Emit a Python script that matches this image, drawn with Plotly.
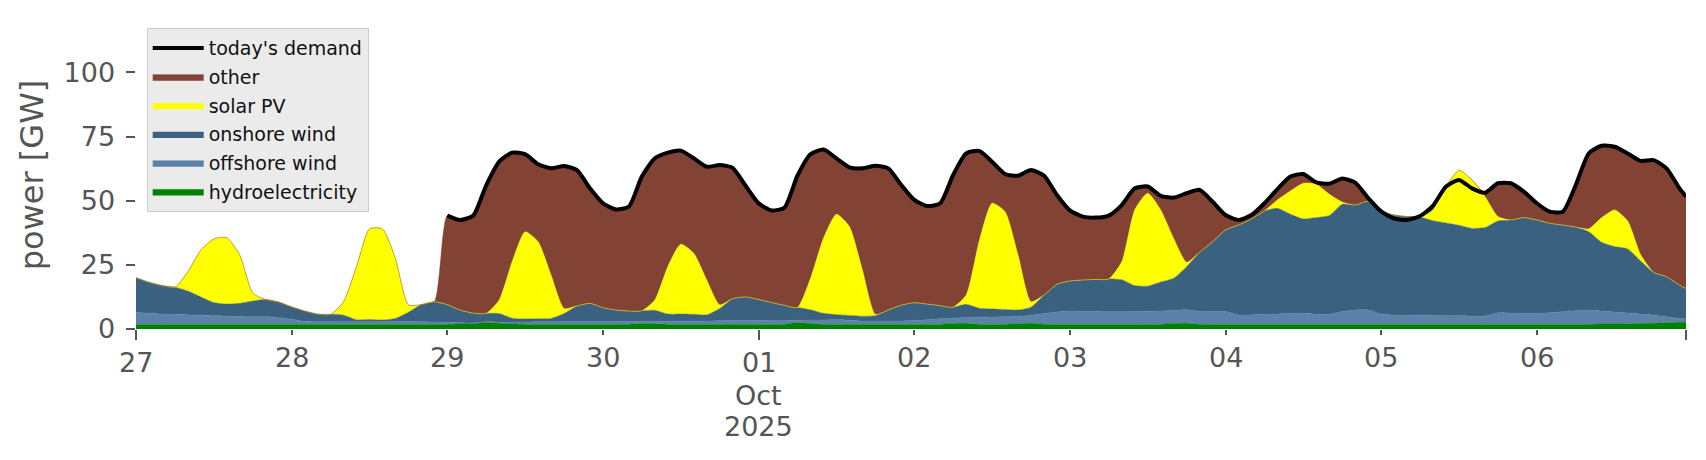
import numpy as np
import pandas as pd
import plotly.graph_objects as go

# ---------------- data (GW), 2-hourly from 2025-09-27 00:00, plus 2025-10-06 23:00 ----------------
hours = list(range(0, 240, 2)) + [239]
times = pd.Timestamp("2025-09-27") + pd.to_timedelta(hours, unit="h")

hydro = [1.8]*25 + [1.9, 2.0, 2.5, 2.2, 1.9] + [1.8]*9 + [2.1, 2.0] + [1.8]*10 + [2.5, 2.1] + [1.8]*10 + \
        [2.1, 2.2, 1.8, 1.8, 1.8, 2.0, 2.2] + [1.8]*10 + [2.1, 2.2] + [1.8]*31 + \
        [1.9, 1.9, 2.0, 2.1, 2.2, 2.4, 2.6, 2.6]

offshore = [4.7, 4.3, 4.0, 3.9, 3.7, 3.6, 3.4, 3.2, 3.1, 3.0,
            3.0, 2.6, 2.0, 1.2, 1.0, 1.0, 1.0, 1.0, 1.0, 1.0,
            1.1, 1.1, 1.0, 0.9, 0.8, 0.5, 0.3, 0.3, 0.5, 0.8,
            0.9, 1.0, 1.0, 1.1, 1.1, 1.1, 1.1, 1.1, 1.1, 0.9,
            1.0, 1.2, 1.2, 1.2, 1.3, 1.4, 1.5, 1.5, 1.5, 1.4,
            1.4, 0.9, 1.4, 1.7, 1.8, 1.6, 1.3, 1.3, 1.3, 1.3,
            1.5, 1.8, 2.2, 2.1, 2.3, 2.8, 2.9, 3.0, 3.0, 3.1,
            4.2, 4.8, 5.2, 5.1, 5.0, 4.9, 4.9, 5.0, 5.1, 5.2,
            5.2, 5.3, 5.0, 5.0, 5.0, 3.7, 3.7, 3.9, 4.0, 4.3,
            4.2, 4.0, 3.9, 5.0, 5.6, 5.6, 4.0, 3.5, 3.5, 3.6,
            3.5, 3.4, 3.4, 3.2, 3.2, 4.5, 4.4, 4.3, 4.3, 4.5,
            4.9, 5.3, 5.5, 5.1, 4.7, 4.2, 3.7, 3.2, 2.4, 1.5,
            1.3]

onshore = [13.5, 12.1, 11.1, 10.6, 9.3, 7.1, 5.1, 4.7, 5.1, 6.1,
           6.7, 6.1, 4.8, 4.0, 3.0, 2.9, 2.6, 0.8, 0.9, 0.7,
           1.2, 3.6, 6.7, 7.9, 6.9, 4.9, 3.9, 3.3, 3.3, 1.5,
           1.2, 1.2, 1.3, 3.1, 6.1, 7.1, 5.4, 4.5, 4.1, 4.1,
           4.3, 2.8, 2.8, 2.7, 2.4, 4.8, 8.5, 9.2, 8.2, 7.1,
           6.0, 5.0, 4.0, 2.6, 2.0, 1.9, 1.9, 2.1, 4.3, 6.2,
           6.9, 6.1, 5.1, 4.3, 5.1, 3.5, 3.1, 2.8, 2.4, 3.2,
           7.2, 10.8, 11.7, 12.2, 12.5, 12.8, 12.5, 10.1, 9.8, 11.3,
           12.5, 16.8, 23.1, 27.2, 31.8, 35.0, 37.4, 40.3, 41.2, 38.6,
           36.9, 37.6, 38.5, 41.8, 40.9, 42.4, 40.2, 39.1, 38.5, 38.1,
           36.9, 36.1, 35.2, 34.2, 34.5, 35.8, 36.3, 37.3, 36.4, 34.9,
           33.8, 32.6, 30.6, 26.8, 25.5, 25.0, 20.7, 16.7, 15.6, 13.0,
           11.9]

solar = [0, 0, 0, 0, 7.5, 18.3, 24.8, 25.9, 18.8, 3.1,
         0, 0, 0, 0, 0, 0, 5.2, 20.7, 35.3, 35.5,
         23.4, 2.9, 0, 0, 0, 0, 0, 0, 5.3, 22.0,
         34.0, 30.0, 16.9, 2.0, 0, 0, 0, 0, 0, 0,
         4.0, 18.5, 27.2, 23.8, 13.6, 1.4, 0, 0, 0, 0,
         0, 0, 12.2, 29.2, 39.1, 34.6, 18.0, 0.5, 0, 0,
         0, 0, 0, 0, 3.6, 25.9, 41.2, 38.1, 21.4, 2.1,
         0, 0, 0, 0, 0, 0, 7.0, 29.5, 36.2, 28.1,
         15.5, 1.7, 0, 0, 0, 0, 0, 0, 3.3, 9.1,
         13.9, 13.0, 8.3, 0.9, 0, 0, 0, 0, 0, 0,
         4.2, 14.2, 21.5, 18.9, 12.1, 1.7, 0, 0, 0, 0,
         0, 0, 1.1, 9.6, 14.3, 10.9, 2.5, 0, 0, 0,
         0]

demand = [None]*24 + [
    44.2, 42.5, 44.2, 56.0, 65.2, 68.7, 68.1, 64.2, 62.6, 63.5,
    61.9, 54.8, 49.0, 46.6, 47.7, 59.4, 66.5, 68.7, 69.5, 66.5,
    63.2, 63.9, 62.8, 55.8, 49.0, 46.2, 47.3, 59.8, 68.1, 69.9,
    66.5, 63.0, 62.6, 63.6, 62.6, 56.1, 50.3, 47.9, 49.0, 60.0,
    68.4, 69.4, 65.2, 60.4, 59.7, 61.9, 59.8, 52.2, 46.2, 43.8,
    43.4, 44.2, 48.3, 54.8, 55.5, 51.9, 51.2, 52.9, 54.2, 49.6,
    44.4, 42.5, 44.4, 49.0, 54.5, 59.4, 60.4, 57.1, 56.6, 58.6,
    57.0, 51.0, 45.8, 43.0, 42.5, 44.0, 48.1, 55.5, 58.1, 54.8,
    53.1, 56.8, 56.8, 53.5, 49.0, 45.7, 45.7, 56.1, 68.4, 71.4,
    71.0, 68.4, 65.5, 65.8, 62.6, 54.8, 51.6]

# "other" is whatever part of today's demand the listed sources do not cover
renew = np.array(hydro) + np.array(offshore) + np.array(onshore) + np.array(solar)
dem = np.array([np.nan if d is None else d for d in demand], dtype=float)
other = np.where(np.isnan(dem), 0.0, np.clip(dem - renew, 0, None)).round(2)

day_ticks = ["2025-09-28", "2025-09-29", "2025-09-30", "2025-10-02",
             "2025-10-03", "2025-10-04", "2025-10-05", "2025-10-06"]
day_labels = ["28", "29", "30", "02", "03", "04", "05", "06"]
major_ticks = ["2025-09-27", "2025-10-01", "2025-10-06 23:00"]

# ---------------- figure ----------------
FONT = "DejaVu Sans"
GREY = "#555555"

series = [
    ("hydroelectricity", hydro, "#008000", 6),
    ("offshore wind", offshore, "#5B83A7", 5),
    ("onshore wind", onshore, "#3B6181", 4),
    ("solar PV", solar, "#FFFF00", 3),
    ("other", list(other), "#824334", 2),
]

fig = go.Figure()
for name, vals, col, rank in series:
    fig.add_trace(go.Scatter(
        x=times, y=vals, name=name, mode="lines", stackgroup="gen",
        legendgroup=name, legendrank=rank,
        line=dict(width=0.5, color=col, shape="spline", smoothing=0.6),
        fillcolor=col,
    ))

fig.add_trace(go.Scatter(
    x=times, y=demand, name="today's demand", mode="lines",
    legendgroup="demand", legendrank=1,
    line=dict(width=4, color="black", shape="spline", smoothing=0.6),
))

annotations = []
for d, lab in zip(day_ticks, day_labels):
    annotations.append(dict(x=d, y=0, xref="x", yref="paper", text=lab, showarrow=False,
                            yanchor="top", yshift=-11, font=dict(family=FONT, size=27, color=GREY)))
for d, lab, ys in [("2025-09-27", "27", -16), ("2025-10-01", "01", -16),
                   ("2025-10-01", "Oct", -49), ("2025-10-01", "2025", -80)]:
    annotations.append(dict(x=d, y=0, xref="x", yref="paper", text=lab, showarrow=False,
                            yanchor="top", yshift=ys, font=dict(family=FONT, size=27, color=GREY)))

fig.update_layout(
    width=1706, height=460,
    margin=dict(l=136, r=20, t=21, b=131),
    paper_bgcolor="white", plot_bgcolor="white",
    font=dict(family=FONT, color=GREY),
    showlegend=True,
    legend=dict(
        x=0.0069, y=0.977, xanchor="left", yanchor="top",
        bgcolor="#EBEBEB", bordercolor="#CCCCCC", borderwidth=1,
        font=dict(family=FONT, size=19, color="#111111"),
        traceorder="grouped", tracegroupgap=1, itemwidth=51,
    ),
    annotations=annotations,
    xaxis=dict(
        type="date", range=[times[0], times[-1]],
        showgrid=False, zeroline=False, showline=False,
        tickmode="array", tickvals=day_ticks, showticklabels=False,
        ticks="outside", ticklen=5.4, tickwidth=1.6, tickcolor=GREY,
        minor=dict(tickmode="array", tickvals=major_ticks, ticks="outside",
                   ticklen=9.5, tickwidth=2.2, tickcolor=GREY, showgrid=False),
    ),
    yaxis=dict(
        range=[0, 120], tickmode="array", tickvals=[0, 25, 50, 75, 100],
        showgrid=False, zeroline=False, showline=False,
        ticks="outside", ticklen=9.5, tickwidth=2.2, tickcolor=GREY,
        ticklabelstandoff=5,
        tickfont=dict(family=FONT, size=27, color=GREY),
        title=dict(text="power [GW]", font=dict(family=FONT, size=32, color=GREY), standoff=10),
    ),
)

fig.write_html("out.html", config={"displayModeBar": False},
               post_script="document.body.style.margin='0';")
